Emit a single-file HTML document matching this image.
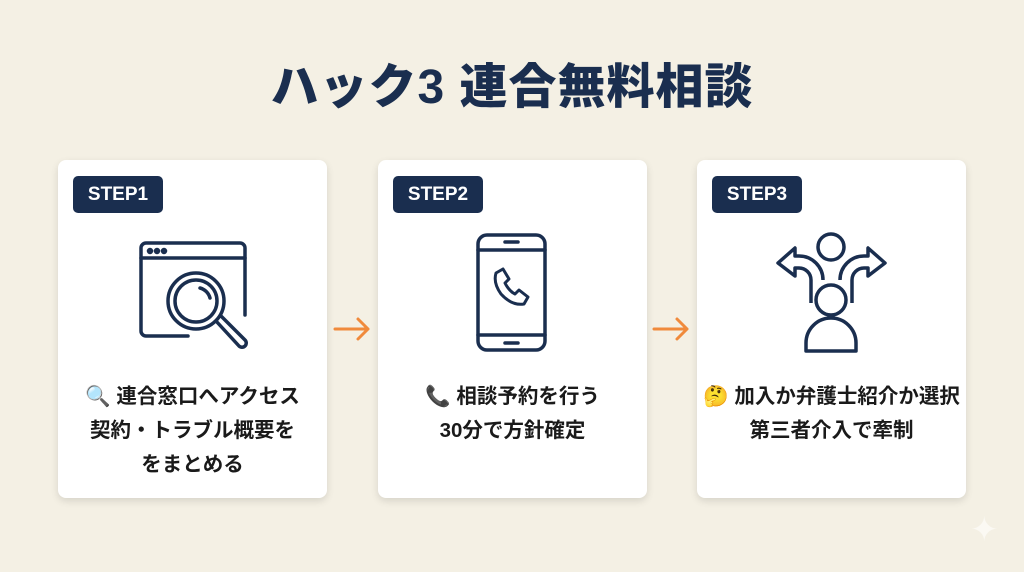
<!DOCTYPE html>
<html><head><meta charset="utf-8"><style>
*{margin:0;padding:0;box-sizing:border-box}
body{width:1024px;height:572px;background:#f4f0e4;position:relative;overflow:hidden;font-family:"Liberation Sans","Noto Sans CJK JP",sans-serif;}
h1{position:absolute;top:58px;left:0;width:1024px;text-align:center;font-size:48px;font-weight:900;color:#1a2e4f;letter-spacing:1px;line-height:60px}
.card{position:absolute;top:160px;width:269px;height:338px;background:#fff;border-radius:8px;box-shadow:0 3px 8px rgba(0,0,0,0.12)}
.badge{position:absolute;left:15px;top:16px;width:90px;height:37px;background:#1a2e4f;border-radius:5px;color:#fff;font-weight:bold;font-size:19px;line-height:37px;text-align:center}
.txt{position:absolute;left:0;width:100%;top:220px;text-align:center;font-size:20.5px;font-weight:bold;color:#1a1a1a;line-height:34px;white-space:nowrap}
svg.ic{position:absolute}
svg.arr{position:absolute;top:316px}
</style></head><body>
<h1>ハック3 連合無料相談</h1>

<div class="card" style="left:58px">
<div class="badge">STEP1</div>
<svg class="ic" style="left:0;top:0" width="269" height="338" viewBox="0 0 269 338" fill="none" stroke="#1a2e4f" stroke-width="3.5" stroke-linecap="round">
<path d="M130 176 H88 a5 5 0 0 1 -5 -5 V88 a5 5 0 0 1 5 -5 H182 a5 5 0 0 1 5 5 V155"/>
<line x1="83" y1="98" x2="187" y2="98"/>
<circle cx="92" cy="91" r="1.5" fill="#1a2e4f"/><circle cx="99" cy="91" r="1.5" fill="#1a2e4f"/><circle cx="106" cy="91" r="1.5" fill="#1a2e4f"/>
<circle cx="138" cy="141" r="28"/><circle cx="138" cy="141" r="21"/>
<path d="M142 128 a14 14 0 0 1 10 10"/>
<path d="M158 161 L181 186 a4 4 0 0 0 6 -6 L163 156" stroke-linejoin="round"/>
</svg>
<div class="txt">🔍 連合窓口へアクセス<br>契約・トラブル概要を<br>をまとめる</div>
</div>

<svg class="arr" style="left:332px" width="40" height="26" viewBox="0 0 40 26" fill="none" stroke="#f08a3c" stroke-width="3" stroke-linecap="round" stroke-linejoin="round"><path d="M3 13 H36 M26 3 L36 13 L26 23"/></svg>

<div class="card" style="left:378px">
<div class="badge">STEP2</div>
<svg class="ic" style="left:0;top:0" width="269" height="338" viewBox="0 0 269 338" fill="none" stroke="#1a2e4f" stroke-width="3.5" stroke-linecap="round">
<rect x="100" y="75" width="67" height="115" rx="9"/>
<line x1="100" y1="90" x2="167" y2="90"/><line x1="100" y1="175" x2="167" y2="175"/>
<line x1="127" y1="82" x2="140" y2="82"/><line x1="127" y1="183" x2="140" y2="183"/>
<path d="M118 113 l7 -4 l6 10 l-4 4 q4 8 10 11 l4 -4 l9 7 l-4 7 q-12 2 -23 -10 q-8 -11 -5 -21z" stroke-width="3" stroke-linejoin="round"/>
</svg>
<div class="txt">📞 相談予約を行う<br>30分で方針確定</div>
</div>

<svg class="arr" style="left:651px" width="40" height="26" viewBox="0 0 40 26" fill="none" stroke="#f08a3c" stroke-width="3" stroke-linecap="round" stroke-linejoin="round"><path d="M3 13 H36 M26 3 L36 13 L26 23"/></svg>

<div class="card" style="left:697px">
<div class="badge">STEP3</div>
<svg class="ic" style="left:0;top:0" width="269" height="338" viewBox="0 0 269 338" fill="none" stroke="#1a2e4f" stroke-width="3.5" stroke-linejoin="round">
<circle cx="134" cy="87" r="13"/>
<circle cx="134" cy="140" r="15"/>
<path d="M109 191 V183 a25 25 0 0 1 50 0 V191 Z"/>
<path d="M114 143 V120 a12 12 0 0 0 -12 -12 H98 V116 L81 103 L98 88 V96 H102 a24 24 0 0 1 24 24"/>
<path d="M155 143 V120 a12 12 0 0 1 12 -12 H171 V116 L188 103 L171 88 V96 H167 a24 24 0 0 0 -24 24"/>
</svg>
<div class="txt">🤔 加入か弁護士紹介か選択<br>第三者介入で牽制</div>
</div>

<div style="position:absolute;left:970px;top:513px;color:#fbf9f3;font-size:34px;line-height:34px">✦</div>
</body></html>
